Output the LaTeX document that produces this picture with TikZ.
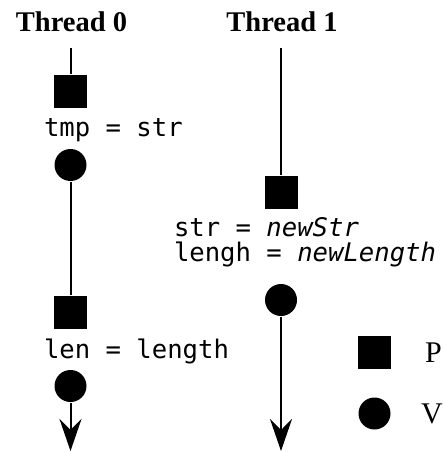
\documentclass[tikz,border=0pt]{standalone}
\usepackage{fontspec}
\setmainfont{Liberation Serif}
\newfontfamily\codefont{DejaVu Sans Mono}
\usetikzlibrary{arrows.meta}

\begin{document}
\begin{tikzpicture}[
    x=1pt, y=-1pt,
    line width=2pt,
    >={Stealth[length=32pt, width=22pt, inset=11pt]},
    pbox/.style={fill=black, rectangle, minimum size=33pt, inner sep=0pt},
    vdot/.style={fill=black, circle, minimum size=32pt, inner sep=0pt},
    title/.style={font=\fontsize{28.5}{28.5}\selectfont\bfseries, anchor=base, inner sep=0pt},
    code/.style={font=\fontsize{25.6}{25.6}\selectfont\codefont, anchor=base west, inner sep=0pt},
    legend/.style={font=\fontsize{30}{30}\selectfont, anchor=base west, inner sep=0pt}
]
    \useasboundingbox (0,0) rectangle (442,452);

    % Column positions
    \def\xA{70.5}
    \def\xB{281}

    % Thread 0
    \node[title] (t0) at (71.5, 32) {Thread 0};
    \coordinate (t0top) at (\xA, 48);
    \node[pbox] (p0a) at (\xA, 91.5) {};
    \node[code] (c0a) at (43, 136) {tmp = str};
    \node[vdot] (v0a) at (\xA, 165) {};
    \node[pbox] (p0b) at (\xA, 312.5) {};
    \node[code] (c0b) at (43, 358) {len = length};
    \node[vdot] (v0b) at (\xA, 386) {};
    \coordinate (t0end) at (\xA, 451);

    \draw (t0top) -- (p0a);
    \draw (v0a) -- (p0b);
    \draw[->] (v0b) -- (t0end);

    % Thread 1
    \node[title] (t1) at (282, 32) {Thread 1};
    \coordinate (t1top) at (\xB, 48);
    \node[pbox] (p1a) at (\xB, 192.5) {};
    \node[code] (c1a) at (173, 236) {str = \textit{newStr}};
    \node[code] (c1b) at (173, 261) {lengh = \textit{newLength}};
    \node[vdot] (v1a) at (\xB, 300) {};
    \coordinate (t1end) at (\xB, 451);

    \draw (t1top) -- (p1a);
    \draw[->] (v1a) -- (t1end);

    % Legend
    \node[pbox] (lp) at (374.5, 352.5) {};
    \node[legend] (lpt) at (424, 362) {P};
    \node[vdot] (lv) at (374.5, 413.5) {};
    \node[legend] (lvt) at (420, 423) {V};

\end{tikzpicture}
\end{document}
